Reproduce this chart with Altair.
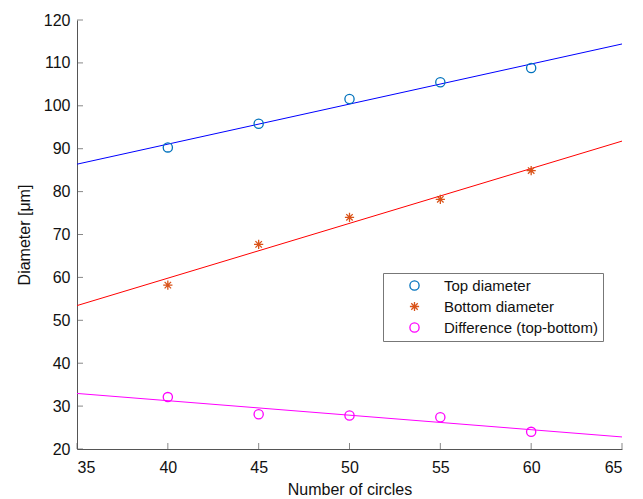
import altair as alt
import pandas as pd

# ---- data ----
n_circles = [40, 45, 50, 55, 60]
top_diameter = [90.3, 95.8, 101.6, 105.5, 108.8]
bottom_diameter = [58.2, 67.7, 74.0, 78.2, 84.9]
difference = [32.1, 28.1, 27.8, 27.4, 24.0]
series_names = ["Top diameter", "Bottom diameter", "Difference (top-bottom)"]
marker_colors = ["#0072BD", "#D95319", "#FF00FF"]
line_colors = ["#0000ff", "#ff0000", "#ff00ff"]
x_ticks = [35, 40, 45, 50, 55, 60, 65]
y_ticks = [20, 30, 40, 50, 60, 70, 80, 90, 100, 110, 120]

rows = []
for name, vals in zip(series_names, [top_diameter, bottom_diameter, difference]):
    for x, y in zip(n_circles, vals):
        rows.append({"x": x, "y": y, "series": name})
df = pd.DataFrame(rows)

W, H = 545, 429
FONT = "Liberation Sans"

xscale = alt.Scale(domain=[35, 65], nice=False, zero=False)
yscale = alt.Scale(domain=[20, 120], nice=False, zero=False)

asterisk = "M0,-1L0,1M-1,0L1,0M-0.7,-0.7L0.7,0.7M-0.7,0.7L0.7,-0.7"

base = alt.Chart(df)

line_layers = []
for i, (name, lc) in enumerate(zip(series_names, line_colors)):
    xenc = alt.X("x:Q", scale=xscale,
                 axis=alt.Axis(values=x_ticks, title="Number of circles", tickSize=0,
                               labelPadding=10, titlePadding=6, grid=False)) if i == 0 else \
        alt.X("x:Q", scale=xscale)
    yenc = alt.Y("y:Q", scale=yscale,
                 axis=alt.Axis(values=y_ticks, title="Diameter [μm]", tickSize=0,
                               labelPadding=7, titlePadding=11, grid=False)) if i == 0 else \
        alt.Y("y:Q", scale=yscale)
    line_layers.append(
        base.transform_filter(alt.datum.series == name)
        .transform_regression("x", "y", extent=[35, 65])
        .mark_line(strokeWidth=1, clip=True, color=lc)
        .encode(x=xenc, y=yenc)
    )

points = base.mark_point(filled=False, strokeWidth=1.3, size=85, opacity=1).encode(
    x=alt.X("x:Q", scale=xscale),
    y=alt.Y("y:Q", scale=yscale),
    color=alt.Color("series:N", title=None,
                    scale=alt.Scale(domain=series_names, range=marker_colors),
                    legend=alt.Legend(orient="none", legendX=306, legendY=253,
                                      padding=5, rowPadding=5,
                                      strokeColor="#777777", fillColor="white",
                                      labelFontSize=15, labelFont=FONT,
                                      labelColor="#111111", labelLimit=400,
                                      labelOffset=22, symbolSize=85,
                                      symbolStrokeWidth=1.3, symbolOffset=19)),
    shape=alt.Shape("series:N", title=None,
                    scale=alt.Scale(domain=series_names,
                                    range=["circle", asterisk, "circle"])),
)

xt = alt.Chart(pd.DataFrame({"t": x_ticks})).mark_tick(
    orient="vertical", color="#555555", thickness=1, size=6
).encode(x=alt.X("t:Q", scale=xscale), y=alt.value(H - 3))

yt = alt.Chart(pd.DataFrame({"t": y_ticks})).mark_tick(
    orient="horizontal", color="#555555", thickness=1, size=6
).encode(y=alt.Y("t:Q", scale=yscale), x=alt.value(3))

chart = alt.layer(*line_layers, points, xt, yt).properties(
    width=W, height=H,
    autosize=alt.AutoSizeParams(type="none"),
    padding={"left": 69, "top": 12, "right": 13, "bottom": 50},
).configure_view(stroke=None).configure_axis(
    domainColor="#555555", domainWidth=1,
    labelFont=FONT, labelFontSize=16, labelColor="#111111",
    titleFont=FONT, titleFontSize=16, titleFontWeight="normal", titleColor="#111111",
)

chart.save("out.html", embed_options={"renderer": "svg", "actions": False})
